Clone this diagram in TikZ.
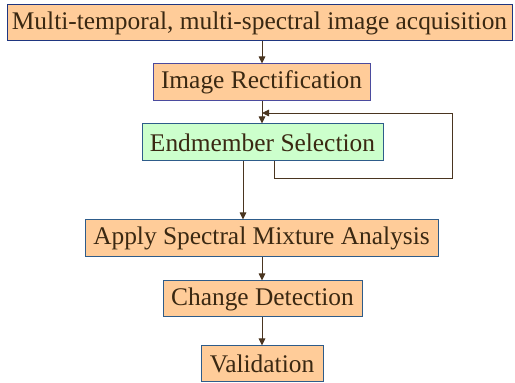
\documentclass[tikz,border=0pt]{standalone}
\usepackage{fontspec}
\setmainfont{Liberation Serif}
\usetikzlibrary{arrows.meta}
\definecolor{peach}{HTML}{FFCC99}
\definecolor{mint}{HTML}{CCFFCC}
\definecolor{navy}{HTML}{1F3680}
\definecolor{purp}{HTML}{4B4B9E}
\definecolor{tealb}{HTML}{2E5C8A}
\definecolor{txt}{HTML}{3A2812}
\definecolor{arr}{HTML}{4A3520}
\tikzset{
  box/.style={draw=navy, fill=peach, line width=1pt, text=txt, inner sep=0pt, font=\fontsize{25.4}{28}\selectfont, anchor=center},
  link/.style={draw=arr, line width=0.9pt, -{Triangle[length=7pt,width=6.5pt]}},
}
\begin{document}
\begin{tikzpicture}[x=1pt,y=1pt]
\useasboundingbox (0,0) rectangle (515,383);
\node[box, minimum width=505pt, minimum height=36pt] (acq) at (259.5,360) {Multi-temporal, multi-spectral image acquisition};
\node[box, draw=purp, minimum width=217pt, minimum height=37pt] (rect) at (261.5,300.5) {Image Rectification};
\node[box, draw=tealb, fill=mint, minimum width=241pt, minimum height=37pt] (end) at (262.5,240.5) {Endmember Selection};
\node[box, draw=tealb, minimum width=353pt, minimum height=37pt] (sma) at (261.5,144.5) {Apply Spectral Mixture Analysis};
\node[box, draw=tealb, minimum width=199pt, minimum height=36pt] (chg) at (262.5,84) {Change Detection};
\node[box, draw=tealb, minimum width=122pt, minimum height=36pt] (val) at (262,19) {Validation};
\coordinate (fbA) at (274,205);
\coordinate (fbB) at (452,205);
\coordinate (fbC) at (452,270);
\coordinate (fbD) at (262,270);
\draw[link] (acq.south -| 262,0) -- (rect.north -| 262,0);
\draw[link] (rect.south -| 262,0) -- (end.north -| 262,0);
\draw[link] (end.south -| 243,0) -- (sma.north -| 243,0);
\draw[link] (sma.south -| 262,0) -- (chg.north -| 262,0);
\draw[link] (chg.south -| 262,0) -- (val.north -| 262,0);
\draw[link] (end.south -| fbA) -- (fbA) -- (fbB) -- (fbC) -- (fbD);
\end{tikzpicture}
\end{document}
